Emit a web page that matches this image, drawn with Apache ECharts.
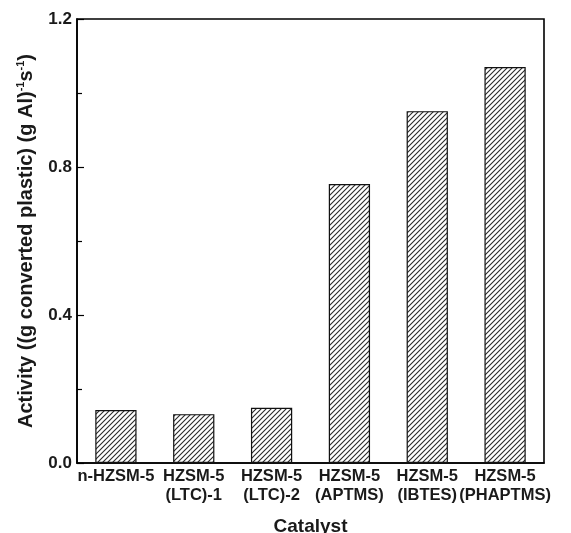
<!DOCTYPE html>
<html>
<head>
<meta charset="utf-8">
<script src="https://cdn.jsdelivr.net/npm/echarts@6/dist/echarts.min.js"></script>
<style>
  html, body { margin: 0; padding: 0; background: #fff; }
  #chart { width: 571px; height: 533px; }
</style>
</head>
<body>
<div id="chart"></div>
<script>
// catalysts and measured activity
const catalysts = ['n-HZSM-5', 'HZSM-5\n(LTC)-1', 'HZSM-5\n(LTC)-2', 'HZSM-5\n(APTMS)', 'HZSM-5\n(IBTES)', 'HZSM-5\n(PHAPTMS)']
const activity = [0.143, 0.132, 0.149, 0.754, 0.951, 1.070]
const yTicks = [0, 0.4, 0.8, 1.2]

const font = 'Liberation Sans, Arial, sans-serif'
const ink = '#1a1a1a'

// diagonal hatch tile for the bars
const hatch = (function () {
    const s = 5
    const c = document.createElement('canvas')
    c.width = s
    c.height = s
    const ctx = c.getContext('2d')
    ctx.fillStyle = '#fff'
    ctx.fillRect(0, 0, s, s)
    ctx.strokeStyle = '#2a2a2a'
    ctx.lineWidth = 1.1
    ctx.beginPath()
    ctx.moveTo(0, s); ctx.lineTo(s, 0)
    ctx.moveTo(-1, 1); ctx.lineTo(1, -1)
    ctx.moveTo(s - 1, s + 1); ctx.lineTo(s + 1, s - 1)
    ctx.stroke()
    return c
})()

const chart = echarts.init(document.getElementById('chart'))
chart.setOption({
    animation: false,
    grid: {
        left: 77, right: 27, top: 19, bottom: 70,
        outerBoundsMode: 'none',
        show: true, borderColor: '#000', borderWidth: 1.6
    },
    xAxis: {
        type: 'category',
        data: catalysts,
        name: 'Catalyst',
        nameLocation: 'middle',
        nameGap: 54,
        nameTextStyle: { fontFamily: font, fontWeight: 'bold', fontSize: 19, color: ink },
        axisLine: { lineStyle: { color: '#000', width: 1.6 } },
        axisTick: { show: false },
        axisLabel: {
            interval: 0, margin: 4,
            fontFamily: font, fontWeight: 'bold', fontSize: 16.5, color: ink, lineHeight: 19
        }
    },
    yAxis: {
        type: 'value',
        min: yTicks[0],
        max: yTicks[yTicks.length - 1],
        interval: 0.4,
        name: '{t|Activity ((g converted plastic) (g Al)}{s|-1}{t|s}{s|-1}{t|)}',
        nameLocation: 'middle',
        nameGap: 40,
        nameTextStyle: {
            rich: {
                t: { fontFamily: font, fontWeight: 'bold', fontSize: 20, color: ink, lineHeight: 22 },
                s: { fontFamily: font, fontWeight: 'bold', fontSize: 11, color: ink, verticalAlign: 'top', lineHeight: 22 }
            }
        },
        axisLine: { show: true, lineStyle: { color: '#000', width: 1.6 } },
        axisTick: { show: true, inside: true, length: 7, lineStyle: { color: '#000', width: 1.2 } },
        minorTick: { show: true, splitNumber: 2, length: 5, lineStyle: { color: '#000', width: 1.2 } },
        splitLine: { show: false },
        axisLabel: {
            margin: 5,
            fontFamily: font, fontWeight: 'bold', fontSize: 17, color: ink,
            formatter: v => v.toFixed(1)
        }
    },
    series: [{
        type: 'bar',
        data: activity,
        barWidth: '53%',
        itemStyle: {
            color: { image: hatch, repetition: 'repeat' },
            borderColor: '#111',
            borderWidth: 1.2
        }
    }]
})
</script>
</body>
</html>
